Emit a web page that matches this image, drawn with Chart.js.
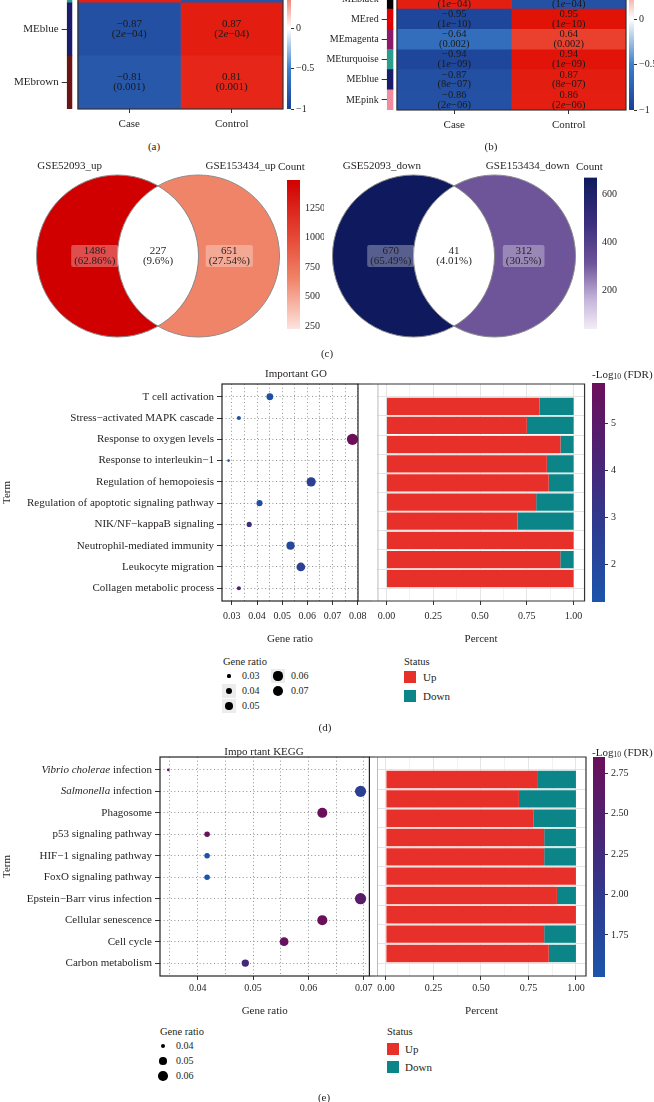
<!DOCTYPE html>
<html><head><meta charset="utf-8">
<script src="https://cdn.jsdelivr.net/npm/chart.js@4.4.1/dist/chart.umd.min.js"></script>
<style>
html,body{margin:0;padding:0;background:#fff;}
body{width:654px;height:1102px;position:relative;overflow:hidden;font-family:"Liberation Serif","DejaVu Serif",serif;color:#231f20;}
canvas{position:absolute;}
.t{position:absolute;white-space:nowrap;line-height:1;}
.t sub{font-size:0.7em;vertical-align:-0.25em;line-height:0;}
</style></head><body>
<script>
// ================= DATA =================
const heatColumns = ['Case','Control'];
const heatA_rows = ['MEturquoise','MEblue','MEbrown'];
const heatA_case = [0.85, -0.87, -0.81];
const heatA_control = [-0.85, 0.87, 0.81];
const heatA_p = ['1e-04','2e-04','0.001'];
const heatB_rows = ['MEblack','MEred','MEmagenta','MEturquoise','MEblue','MEpink'];
const heatB_case = [0.86, -0.95, -0.64, -0.94, -0.87, -0.86];
const heatB_control = [-0.86, 0.95, 0.64, 0.94, 0.87, 0.86];
const heatB_p = ['1e-04','1e-10','0.002','1e-09','8e-07','2e-06'];
const corrTicks = [-1, -0.5, 0, 0.5, 1];

const vennUpSets = ['GSE52093_up','GSE153434_up'];
const vennUpCounts = [1486, 227, 651];      // only left, both, only right
const vennUpTicks = [250, 500, 750, 1000, 1250];
const vennDownSets = ['GSE52093_down','GSE153434_down'];
const vennDownCounts = [670, 41, 312];
const vennDownTicks = [200, 400, 600];

const goTerms = ['T cell activation','Stress\u2212activated MAPK cascade','Response to oxygen levels','Response to interleukin\u22121','Regulation of hemopoiesis','Regulation of apoptotic signaling pathway','NIK/NF\u2212kappaB signaling','Neutrophil-mediated immunity','Leukocyte migration','Collagen metabolic process'];
const goRatio = [0.0451, 0.0328, 0.0779, 0.0287, 0.0615, 0.0410, 0.0369, 0.0533, 0.0574, 0.0328];
const goFdr   = [1.55, 1.5, 5.87, 1.2, 2.6, 1.65, 3.7, 2.0, 2.45, 4.3];
const goUp    = [0.818, 0.75, 0.93, 0.857, 0.867, 0.80, 0.70, 1.00, 0.929, 1.00];
const goDown  = [0.182, 0.25, 0.07, 0.143, 0.133, 0.20, 0.30, 0.00, 0.071, 0.00];
const goRatioTicks = [0.03, 0.04, 0.05, 0.06, 0.07, 0.08];
const goFdrTicks = [2, 3, 4, 5];
const goRatioLegend = [0.03, 0.04, 0.05, 0.06, 0.07];

const keggTerms = ['<i>Vibrio cholerae</i> infection','<i>Salmonella</i> infection','Phagosome','p53 signaling pathway','HIF\u22121 signaling pathway','FoxO signaling pathway','Epstein\u2212Barr virus infection','Cellular senescence','Cell cycle','Carbon metabolism'];
const keggRatio = [0.0347, 0.0694, 0.0625, 0.0417, 0.0417, 0.0417, 0.0694, 0.0625, 0.0556, 0.0486];
const keggFdr   = [2.8, 1.9, 2.85, 2.8, 1.55, 1.49, 2.58, 2.85, 2.8, 2.3];
const keggUp    = [0.80, 0.70, 0.778, 0.833, 0.833, 1.00, 0.90, 1.00, 0.833, 0.857];
const keggDown  = [0.20, 0.30, 0.222, 0.167, 0.167, 0.00, 0.10, 0.00, 0.167, 0.143];
const keggRatioTicks = [0.04, 0.05, 0.06, 0.07];
const keggFdrTicks = [1.75, 2.00, 2.25, 2.50, 2.75];
const keggRatioLegend = [0.04, 0.05, 0.06];

const percentTicks = [0, 0.25, 0.5, 0.75, 1];
const statusLabels = ['Up','Down'];

// ================= STYLE =================
const FONT = '"Liberation Serif","DejaVu Serif",serif';
const TXT = '#231f20';
const UP_C = '#e8302a', DOWN_C = '#0b8588';
const RMIN = 1.3, RMAX = 5.6;
const corrStops = [[0,'#1a3f95'],[0.25,'#3d80cc'],[0.5,'#ffffff'],[0.75,'#ee5540'],[1,'#e00a00']];
const fdrStops = [[0,'#1b55ab'],[0.35,'#2e3b8f'],[0.65,'#4b2476'],[1,'#6b0f5a']];
const upStops = [[0,'#fde3de'],[0.337,'#f08468'],[0.6,'#e64c38'],[1,'#d10000']];
const downStops = [[0,'#f3edf6'],[0.2,'#c3b3da'],[0.431,'#6e5499'],[0.7,'#3b2e7e'],[1,'#0f1a5e']];
const VENN_C = [-0.5, 0.5];

Chart.defaults.font.family = FONT;
Chart.defaults.font.size = 10;
Chart.defaults.color = TXT;
Chart.defaults.animation = false;
Chart.defaults.events = [];
Chart.defaults.responsive = false;
Chart.defaults.plugins.legend.display = false;
Chart.defaults.plugins.tooltip.enabled = false;

function hex2rgb(h){h=h.replace('#','');return [0,2,4].map(k=>parseInt(h.substr(k,2),16));}
function ramp(stops){
  return t=>{ t=Math.max(0,Math.min(1,t));
    for(let i=1;i<stops.length;i++){ if(t<=stops[i][0]+1e-12){ const [t0,c0]=stops[i-1],[t1,c1]=stops[i]; const f=(t-t0)/(t1-t0); const a=hex2rgb(c0),b=hex2rgb(c1); return 'rgb('+a.map((v,k)=>Math.round(v+(b[k]-v)*f)).join(',')+')'; } }
    return stops[stops.length-1][1]; };
}
const corrColor = v=>ramp(corrStops)((v+1)/2);

function mk(left,top,w,h){ const c=document.createElement('canvas'); c.width=w; c.height=h; c.style.left=left+'px'; c.style.top=top+'px'; c.style.width=w+'px'; c.style.height=h+'px'; document.body.appendChild(c); return c; }
function label(x,y,html,size,align){ const d=document.createElement('div'); d.className='t'; d.innerHTML=html; d.style.left=x+'px'; d.style.top=y+'px'; d.style.fontSize=(size||11)+'px'; d.style.transform= align==='left'?'translateY(-50%)':'translate(-50%,-50%)'; document.body.appendChild(d); return d; }
function segs(str){ const out=[]; const re=/<i>(.*?)<\/i>/g; let last=0,m; while((m=re.exec(str))){ if(m.index>last) out.push({t:str.slice(last,m.index)}); out.push({t:m[1],i:true}); last=re.lastIndex; } if(last<str.length) out.push({t:str.slice(last)}); return out; }
function pSegs(p){ const s=p.replace(/-/g,'\u2212'); const k=s.indexOf('e'); return k<0?[{t:'('+s+')'}]:[{t:'('+s.slice(0,k)},{t:'e',i:true},{t:s.slice(k+1)+')'}]; }
function fmtCorr(v){ return (v<0?'\u2212':'')+Math.abs(v).toFixed(2); }
function drawRich(ctx,parts,x,y,align,size,color){
  ctx.save(); ctx.textBaseline='middle'; ctx.textAlign='left'; ctx.fillStyle=color||TXT;
  const f=p=>(p.i?'italic ':'')+size+'px '+FONT;
  let W=0; const ws=parts.map(p=>{ctx.font=f(p); const w=ctx.measureText(p.t).width; W+=w; return w;});
  let cx= align==='right'? x-W : align==='center'? x-W/2 : x;
  parts.forEach((p,k)=>{ctx.font=f(p); ctx.fillText(p.t,cx,y); cx+=ws[k];});
  ctx.restore();
}

// ================= HEATMAPS =================
function heatmap(o){
  const cv=mk(o.left,o.top,o.w,o.h);
  const base={grouped:false,barPercentage:1,categoryPercentage:1,borderWidth:0};
  new Chart(cv,{type:'bar',
    data:{labels:o.rows,datasets:[
      Object.assign({data:o.rows.map(()=>o.strip),backgroundColor:o.stripColors},base),
      Object.assign({data:o.rows.map(()=>[0,1]),backgroundColor:o.caseVals.map(corrColor)},base),
      Object.assign({data:o.rows.map(()=>[1,2]),backgroundColor:o.ctrlVals.map(corrColor)},base)]},
    options:{indexAxis:'y',layout:{padding:o.pad},
      scales:{
        x:{type:'linear',min:o.xmin,max:2,afterBuildTicks:s=>{s.ticks=heatColumns.map((c,i)=>({value:i+0.5}));},
           ticks:{callback:(v,i)=>heatColumns[i],font:{size:11},padding:o.xpad,maxRotation:0,autoSkip:false},
           grid:{drawOnChartArea:false,tickLength:4,color:'#333'},border:{display:false},afterFit:s=>{s.height=o.xh;}},
        y:{type:'category',ticks:{font:{size:o.rowFont},padding:3,autoSkip:false},
           grid:{drawOnChartArea:false,tickLength:5,color:'#333',offset:false},border:{display:false},afterFit:s=>{s.width=o.yw;}}
      }},
    plugins:[{id:'cells',afterDatasetsDraw(chart){
      const {ctx,chartArea:a,scales:{x,y}}=chart;
      const x0=x.getPixelForValue(0),x2=x.getPixelForValue(2);
      ctx.save(); ctx.strokeStyle='#333'; ctx.lineWidth=1.2; ctx.strokeRect(x0,a.top,x2-x0,a.bottom-a.top); ctx.restore();
      o.rows.forEach((r,i)=>{ const cy=y.getPixelForValue(i);
        [o.caseVals,o.ctrlVals].forEach((vals,j)=>{ const cx=x.getPixelForValue(j+0.5);
          drawRich(ctx,[{t:fmtCorr(vals[i])}],cx,cy-4.9,'center',o.cellFont,'#1a1a1a');
          drawRich(ctx,pSegs(o.p[i]),cx,cy+4.9,'center',o.cellFont,'#1a1a1a'); }); });
    }}]
  });
}
function colorbar(o){
  const cv=mk(o.left,o.top,o.w,o.h);
  const grad=c=>{ const ch=c.chart,s=ch.scales.y; if(!ch.chartArea) return o.stops[0][1];
    const g=ch.ctx.createLinearGradient(0,s.getPixelForValue(o.min),0,s.getPixelForValue(o.max));
    o.stops.forEach(([t,cc])=>g.addColorStop(t,cc)); return g; };
  new Chart(cv,{type:'bar',data:{labels:[''],datasets:[{data:[[o.min,o.max]],backgroundColor:grad,barPercentage:1,categoryPercentage:1,borderWidth:0}]},
    options:{layout:{padding:o.pad},scales:{x:{display:false},
      y:{position:'right',min:o.min,max:o.max,afterBuildTicks:s=>{s.ticks=o.ticks.map(v=>({value:v}));},
         ticks:{callback:o.fmt,padding:o.tpad,font:{size:10},autoSkip:false},
         grid:{drawOnChartArea:false,drawTicks:o.drawTicks,tickLength:3,color:'#333'},border:{display:false},afterFit:s=>{s.width=o.yw;}}}}});
}
const corrFmt=v=>v===0?'0':(v<0?'\u2212':'')+Math.abs(v);

heatmap({left:0,top:-60,w:290,h:190,pad:{top:7,right:7,left:0,bottom:0},yw:66.7,xh:21,xpad:5,xmin:-0.11,strip:[-0.107,-0.059],rowFont:11,cellFont:11,
  stripColors:['#2a9d8f','#1b1b6b','#6b1414'],rows:heatA_rows,caseVals:heatA_case,ctrlVals:heatA_control,p:heatA_p});
colorbar({left:280,top:-60,w:44,h:190,pad:{left:7,top:5,bottom:21,right:0},yw:33,min:-1,max:1,ticks:corrTicks,fmt:corrFmt,stops:corrStops,drawTicks:true,tpad:2});
heatmap({left:300,top:-20,w:330,h:150,pad:{top:8.8,right:4,left:0,bottom:0},yw:86.7,xh:20,xpad:5,xmin:-0.09,strip:[-0.087,-0.035],rowFont:10,cellFont:10.5,
  stripColors:['#000000','#e00000','#8b1a6b','#2a9d8f','#1b1b6b','#f08ca0'],rows:heatB_rows,caseVals:heatB_case,ctrlVals:heatB_control,p:heatB_p});
colorbar({left:622,top:-80,w:32,h:200,pad:{left:7,top:6,bottom:10,right:0},yw:20,min:-1,max:1,ticks:corrTicks,fmt:corrFmt,stops:corrStops,drawTicks:true,tpad:2});

// ================= VENN =================
function venn(o){
  const cv=mk(o.left,o.top,o.w,o.h);
  const R=o.R, lo=Math.min(...o.counts), hi=Math.max(...o.counts);
  const col=v=>ramp(o.stops)((v-lo)/(hi-lo));
  const total=o.counts.reduce((a,b)=>a+b,0);
  const pct=v=>'('+(+(v/total*100).toFixed(2))+'%)';
  const rad=c=>{const s=c.chart.scales.x; return s.getPixelForValue(1)-s.getPixelForValue(0);};
  new Chart(cv,{type:'scatter',data:{datasets:[
      {data:[{x:VENN_C[0],y:0}],pointBackgroundColor:col(o.counts[0]),pointRadius:rad,pointBorderWidth:0},
      {data:[{x:VENN_C[1],y:0}],pointBackgroundColor:col(o.counts[2]),pointRadius:rad,pointBorderWidth:0}]},
    options:{layout:{padding:0},scales:{x:{display:false,min:-o.cx/R,max:(o.w-o.cx)/R},y:{display:false,min:-(o.h-o.cy)/R,max:o.cy/R}}},
    plugins:[{id:'venn',afterDatasetsDraw(chart){
      const {ctx,scales:{x,y}}=chart; const X=v=>x.getPixelForValue(v);
      const r=X(1)-X(0), cy=y.getPixelForValue(0), c0=X(VENN_C[0]), c1=X(VENN_C[1]);
      ctx.save(); ctx.beginPath(); ctx.arc(c0,cy,r,0,Math.PI*2); ctx.clip();
      ctx.beginPath(); ctx.arc(c1,cy,r,0,Math.PI*2); ctx.fillStyle='#fff'; ctx.fill(); ctx.restore();
      ctx.save(); ctx.strokeStyle='#8c8c8c'; ctx.lineWidth=1;
      [c0,c1].forEach(c=>{ctx.beginPath(); ctx.arc(c,cy,r,0,Math.PI*2); ctx.stroke();}); ctx.restore();
      o.sets.forEach((s,i)=>drawRich(ctx,[{t:s}],X(o.nameX[i]),o.nameY,'center',11,TXT));
      o.counts.forEach((v,i)=>{ const cx=X(o.labelX[i]); const l1=String(v), l2=pct(v);
        if(i!==1){ ctx.save(); ctx.font='11px '+FONT; const W=Math.max(ctx.measureText(l1).width,ctx.measureText(l2).width)+6;
          ctx.fillStyle='rgba(255,255,255,0.3)'; ctx.beginPath(); if(ctx.roundRect) ctx.roundRect(cx-W/2,cy-11,W,22,2); else ctx.rect(cx-W/2,cy-11,W,22); ctx.fill(); ctx.restore(); }
        drawRich(ctx,[{t:l1}],cx,cy-5,'center',11,TXT); drawRich(ctx,[{t:l2}],cx,cy+5.5,'center',11,TXT); });
    }}]});
  colorbar({left:o.cbLeft,top:o.top,w:o.cbW,h:o.h,pad:o.cbPad,yw:o.cbW-20,min:lo,max:hi,ticks:o.ticks,fmt:v=>String(v),stops:o.stops,drawTicks:false,tpad:5});
}
venn({left:0,top:155,w:290,h:185,cx:158,cy:101,R:81,sets:vennUpSets,counts:vennUpCounts,stops:upStops,nameX:[-1.09,1.02],nameY:11,labelX:[-0.78,0,0.88],
  cbLeft:280,cbW:44,cbPad:{left:7,top:25,bottom:11,right:0},ticks:vennUpTicks});
venn({left:324,top:155,w:253,h:185,cx:130,cy:101,R:81,sets:vennDownSets,counts:vennDownCounts,stops:downStops,nameX:[-0.89,0.91],nameY:11,labelX:[-0.78,0,0.86],
  cbLeft:577,cbW:77,cbPad:{left:7,top:22.5,bottom:5.25,right:0},ticks:vennDownTicks});

// ================= DOT + BAR =================
function dotChart(o){
  const cv=mk(o.left,o.top,o.w,o.h);
  const n=o.terms.length;
  const lo=Math.min(...o.ratio), hi=Math.max(...o.ratio);
  const size=v=>Math.sqrt(RMIN*RMIN+(RMAX*RMAX-RMIN*RMIN)*Math.max(0,(v-lo)/(hi-lo)));
  const fcol=v=>ramp(fdrStops)((v-o.fdrMin)/(o.fdrMax-o.fdrMin));
  const step=(o.majors[1]-o.majors[0])/2;
  const xt=[]; o.majors.forEach(m=>{[m-step,m].forEach(v=>{ if(v>=o.xmin&&v<=o.xmax) xt.push(v); });});
  if(o.majors[o.majors.length-1]+step<=o.xmax) xt.push(o.majors[o.majors.length-1]+step);
  const isMaj=v=>o.majors.some(m=>Math.abs(m-v)<1e-9);
  new Chart(cv,{type:'scatter',data:{datasets:[{data:o.terms.map((t,i)=>({x:o.ratio[i],y:i})),pointRadius:o.ratio.map(size),pointBackgroundColor:o.fdr.map(fcol),pointBorderWidth:0}]},
    options:{layout:{padding:o.pad},scales:{
      x:{type:'linear',min:o.xmin,max:o.xmax,afterBuildTicks:s=>{s.ticks=xt.map(v=>({value:v}));},
         ticks:{callback:v=>isMaj(v)?v.toFixed(2):'',padding:o.xpad,maxRotation:0,autoSkip:false,font:{size:10}},
         grid:{color:'#777',lineWidth:0.8,tickLength:4,tickWidth:1,tickColor:c=>isMaj(c.tick.value)?'#333':'rgba(0,0,0,0)'},
         border:{display:false,dash:[1,2.6]},title:{display:true,text:'Gene ratio',font:{size:11},padding:{top:0,bottom:o.titlePad}},afterFit:s=>{s.height=o.xh;}},
      y:{type:'linear',reverse:true,min:-0.6,max:n-0.4,afterBuildTicks:s=>{s.ticks=o.terms.map((t,i)=>({value:i}));},
         ticks:{display:false},grid:{color:'#777',lineWidth:0.8,tickLength:5,tickWidth:1,tickColor:'#333'},
         border:{display:false,dash:[1,2.6]},title:{display:true,text:'Term',font:{size:11},padding:{top:1,bottom:0}},afterFit:s=>{s.width=o.yw;}}
    }},
    plugins:[{id:'frame',afterDraw(chart){
      const {ctx,chartArea:a,scales:{y}}=chart;
      ctx.save(); ctx.strokeStyle='#222'; ctx.lineWidth=1.2; ctx.strokeRect(a.left,a.top,a.right-a.left,a.bottom-a.top);
      ctx.lineWidth=1; ctx.beginPath(); ctx.moveTo(a.right,a.top); ctx.lineTo(chart.width,a.top); ctx.moveTo(a.right,a.bottom); ctx.lineTo(chart.width,a.bottom); ctx.stroke(); ctx.restore();
      o.terms.forEach((t,i)=>drawRich(ctx,segs(t),a.left-8,y.getPixelForValue(i),'right',11,TXT));
    }}]});
  return size;
}
function stackBar(o){
  const cv=mk(o.left,o.top,o.w,o.h);
  const n=o.terms.length;
  const minors=percentTicks.slice(1).map((v,k)=>(v+percentTicks[k])/2);
  const xt=percentTicks.concat(minors).sort((a,b)=>a-b);
  const isMaj=v=>percentTicks.some(m=>Math.abs(m-v)<1e-9);
  new Chart(cv,{type:'bar',data:{datasets:[
      {label:statusLabels[0],data:o.up.map((v,i)=>({x:v,y:i})),backgroundColor:UP_C},
      {label:statusLabels[1],data:o.down.map((v,i)=>({x:v,y:i})),backgroundColor:DOWN_C}]},
    options:{indexAxis:'y',layout:{padding:o.pad},datasets:{bar:{barPercentage:0.9,categoryPercentage:1,borderWidth:0}},
      scales:{
        x:{type:'linear',stacked:true,min:o.xmin,max:o.xmax,afterBuildTicks:s=>{s.ticks=xt.map(v=>({value:v}));},
           ticks:{callback:v=>isMaj(v)?v.toFixed(2):'',padding:o.xpad,maxRotation:0,autoSkip:false,font:{size:10}},
           grid:{color:c=>isMaj(c.tick.value)?'#e4e4e4':'#f2f2f2',tickLength:4,tickWidth:1,tickColor:c=>isMaj(c.tick.value)?'#333':'rgba(0,0,0,0)'},
           border:{display:false},title:{display:true,text:'Percent',font:{size:11},padding:{top:0,bottom:o.titlePad}},afterFit:s=>{s.height=o.xh;}},
        y:{type:'linear',stacked:true,reverse:true,min:-0.6,max:n-0.4,afterBuildTicks:s=>{s.ticks=o.terms.map((t,i)=>({value:i}));},
           ticks:{display:false},grid:{color:'#e4e4e4',drawTicks:false},border:{display:false},afterFit:s=>{s.width=0;}}
      }},
    plugins:[{id:'frame',afterDraw(chart){
      const {ctx,chartArea:a}=chart;
      ctx.save(); ctx.lineWidth=1;
      ctx.strokeStyle='#bbb'; ctx.beginPath(); ctx.moveTo(a.left+0.5,a.top); ctx.lineTo(a.left+0.5,a.bottom); ctx.stroke();
      ctx.strokeStyle='#333'; ctx.lineWidth=1.2; ctx.beginPath(); ctx.moveTo(0,a.top); ctx.lineTo(a.right,a.top); ctx.lineTo(a.right,a.bottom); ctx.lineTo(0,a.bottom); ctx.stroke(); ctx.restore();
    }}]});
}

// GO (d)
const goSize = dotChart({left:0,top:360,w:372,h:290,pad:{top:24,right:3,left:0,bottom:0},yw:222,xh:49,xpad:5.5,titlePad:4.4,
  terms:goTerms,ratio:goRatio,fdr:goFdr,fdrMin:1.2,fdrMax:5.87,xmin:0.0261,xmax:0.0801,majors:goRatioTicks});
stackBar({left:372,top:360,w:216,h:290,pad:{top:24,right:3,left:5,bottom:0},xh:49,xpad:5.5,titlePad:4.4,terms:goTerms,up:goUp,down:goDown,xmin:-0.048,xmax:1.0585});
colorbar({left:585,top:360,w:69,h:290,pad:{left:7,top:23,bottom:48,right:0},yw:49,min:1.2,max:5.87,ticks:goFdrTicks,fmt:v=>String(v),stops:fdrStops,drawTicks:true,tpad:3});

// KEGG (e)
const keggSize = dotChart({left:0,top:730,w:375,h:290,pad:{top:27,right:4,left:0,bottom:0},yw:160,xh:44,xpad:2,titlePad:2.4,
  terms:keggTerms,ratio:keggRatio,fdr:keggFdr,fdrMin:1.49,fdrMax:2.85,xmin:0.0332,xmax:0.0710,majors:keggRatioTicks});
stackBar({left:375,top:730,w:214,h:290,pad:{top:27,right:3,left:2,bottom:0},xh:44,xpad:2,titlePad:2.4,terms:keggTerms,up:keggUp,down:keggDown,xmin:-0.047,xmax:1.053});
colorbar({left:586,top:730,w:68,h:290,pad:{left:7,top:27,bottom:43,right:0},yw:49,min:1.49,max:2.85,ticks:keggFdrTicks,fmt:v=>v.toFixed(2),stops:fdrStops,drawTicks:true,tpad:3});

// ================= TEXT & LEGENDS =================
label(154,146,'(a)'); label(491,146,'(b)'); label(327,353,'(c)'); label(325,727,'(d)'); label(324,1097,'(e)');
label(278,166,'Count',11,'left'); label(576,166,'Count',11,'left');
label(296,373,'Important GO'); label(264,751,'Impo rtant KEGG');
label(592,374,'-Log<sub>10</sub> (FDR)',11,'left'); label(592,752,'-Log<sub>10</sub> (FDR)',11,'left');

function sizeLegend(x0,y0,tx,ty,vals,sizeFn,bgIdx,colGap){
  label(tx,ty,'Gene ratio',10.5,'left');
  vals.forEach((v,k)=>{ const cx=x0+Math.floor(k/3)*colGap, cy=y0+(k%3)*15;
    if(bgIdx.includes(k)){ const b=document.createElement('div'); b.style.cssText=`position:absolute;left:${cx-7}px;top:${cy-7}px;width:14px;height:14px;background:#ececec;`; document.body.appendChild(b); }
    const r=sizeFn(v); const d=document.createElement('div'); d.style.cssText=`position:absolute;left:${cx-r}px;top:${cy-r}px;width:${2*r}px;height:${2*r}px;border-radius:50%;background:#000;`; document.body.appendChild(d);
    label(cx+13,cy,v.toFixed(2),10,'left'); });
}
function statusLegend(x,ty,y1,y2,tx){
  label(x,ty,'Status',10.5,'left');
  [UP_C,DOWN_C].forEach((c,k)=>{ const yy=k?y2:y1; const d=document.createElement('div'); d.style.cssText=`position:absolute;left:${x}px;top:${yy}px;width:12px;height:12px;background:${c};`; document.body.appendChild(d);
    label(tx,yy+6,statusLabels[k],11,'left'); });
}
sizeLegend(229,676,223,662,goRatioLegend,goSize,[1,2,3],49);
statusLegend(404,662,671,690,423);
sizeLegend(163,1046,160,1032,keggRatioLegend,keggSize,[],49);
statusLegend(387,1032,1043,1061,405);
</script>
</body></html>
